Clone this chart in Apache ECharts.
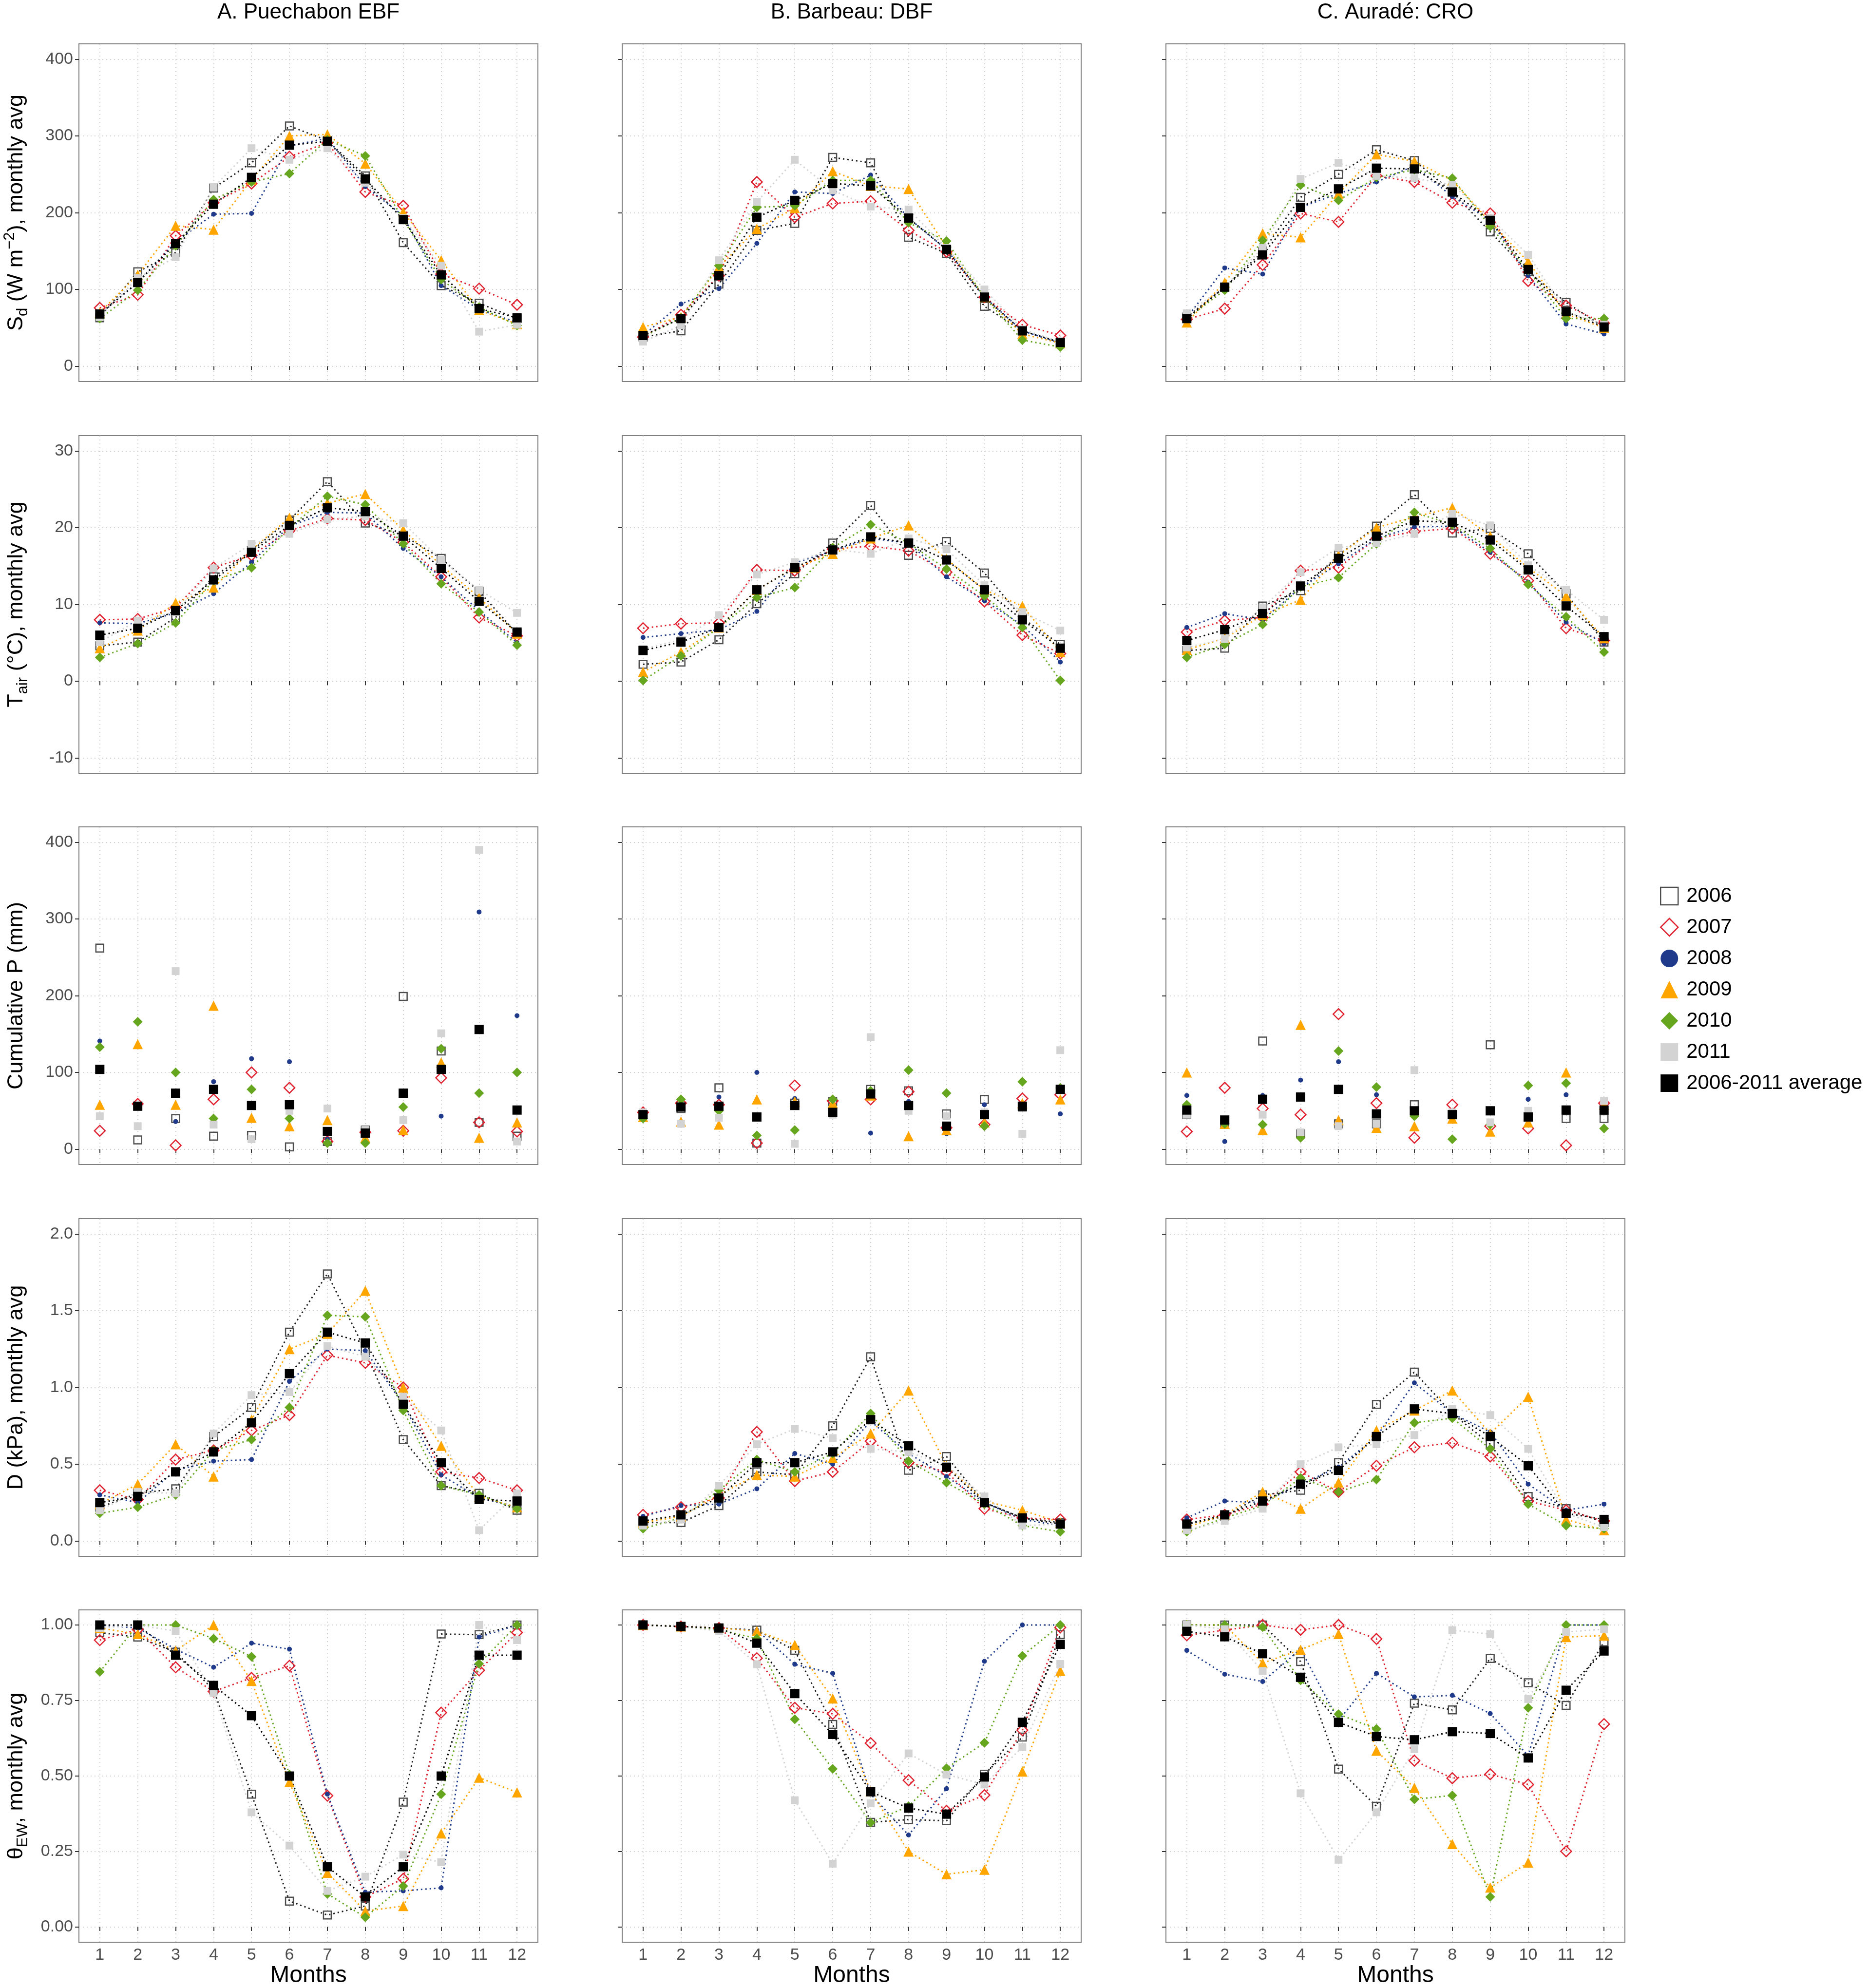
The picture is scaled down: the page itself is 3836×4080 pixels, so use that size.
<!DOCTYPE html>
<html lang="en">
<head>
<meta charset="UTF-8">
<title>Monthly meteorology 2006-2011</title>
<script src="https://cdn.jsdelivr.net/npm/echarts@6/dist/echarts.min.js"></script>
<style>
  html, body { margin: 0; padding: 0; background: #fff; }
  #chart { width: 3836px; height: 4080px; }
</style>
</head>
<body>
<div id="chart"></div>
<script>
var months = [1, 2, 3, 4, 5, 6, 7, 8, 9, 10, 11, 12];
var years = ['2006', '2007', '2008', '2009', '2010', '2011', '2006-2011 average'];
var sites = ['A. Puechabon EBF', 'B. Barbeau: DBF', 'C. Auradé: CRO'];

// every panel: one row per entry of years, one value per month
var sdPuechabon = [
  [63, 123, 148, 232, 265, 313, 294, 248, 161, 105, 82, 62],
  [76, 93, 170, 213, 238, 273, 291, 227, 209, 120, 101, 80],
  [68, 109, 162, 198, 199, 287, 297, 234, 196, 105, 74, 57],
  [70, 119, 183, 178, 243, 300, 302, 264, 201, 138, 73, 55],
  [62, 99, 157, 217, 240, 251, 295, 274, 191, 113, 77, 53],
  [64, 115, 142, 233, 284, 269, 284, 239, 193, 131, 45, 54],
  [68, 109, 160, 211, 246, 288, 293, 244, 191, 119, 75, 63]
];
var sdBarbeau = [
  [38, 46, 107, 177, 186, 272, 265, 168, 147, 78, 46, 31],
  [38, 67, 118, 240, 194, 212, 215, 177, 149, 90, 54, 40],
  [40, 81, 101, 160, 227, 225, 249, 193, 152, 90, 46, 30],
  [51, 64, 129, 179, 206, 254, 235, 231, 155, 90, 42, 30],
  [38, 63, 131, 207, 209, 242, 242, 187, 163, 90, 34, 25],
  [32, 53, 138, 214, 269, 229, 208, 204, 154, 100, 48, 32],
  [40, 62, 118, 194, 216, 238, 235, 193, 152, 90, 46, 31]
];
var sdAurade = [
  [64, 103, 149, 220, 250, 282, 268, 227, 175, 123, 83, 51],
  [61, 75, 132, 199, 188, 248, 240, 213, 199, 111, 79, 56],
  [63, 128, 120, 207, 225, 240, 261, 221, 190, 118, 55, 42],
  [57, 109, 173, 168, 225, 276, 267, 242, 188, 136, 68, 50],
  [62, 99, 164, 236, 216, 246, 256, 245, 182, 125, 62, 62],
  [69, 103, 154, 244, 265, 248, 245, 236, 193, 145, 71, 54],
  [62, 103, 145, 207, 231, 258, 257, 227, 190, 126, 71, 51]
];

var tairPuechabon = [
  [4.6, 5.1, 8.3, 13.6, 17.0, 21.0, 26.0, 20.6, 19.0, 16.0, 11.7, 6.2],
  [8.0, 8.1, 9.6, 14.8, 16.4, 19.6, 21.2, 21.0, 18.1, 13.6, 8.3, 5.9],
  [7.6, 7.5, 8.9, 11.4, 15.5, 20.2, 22.0, 21.9, 17.3, 13.6, 9.2, 5.0],
  [4.3, 6.6, 10.2, 12.2, 17.1, 21.3, 23.2, 24.4, 19.7, 15.1, 10.9, 6.2],
  [3.1, 4.9, 7.6, 13.1, 14.8, 20.0, 24.1, 23.0, 17.9, 12.7, 9.0, 4.7],
  [5.1, 7.9, 9.0, 14.7, 17.9, 19.2, 21.1, 21.5, 20.6, 15.8, 11.9, 8.9],
  [6.0, 6.9, 9.2, 13.2, 16.8, 20.3, 22.6, 22.1, 18.9, 14.7, 10.4, 6.4]
];
var tairBarbeau = [
  [2.2, 2.5, 5.4, 10.1, 14.0, 18.0, 22.9, 16.4, 18.2, 14.1, 8.2, 4.8],
  [6.9, 7.5, 7.6, 14.5, 14.4, 17.2, 17.6, 17.0, 14.2, 10.4, 6.0, 3.6],
  [5.7, 6.2, 6.7, 9.1, 15.4, 17.0, 18.6, 18.0, 13.6, 10.5, 7.3, 2.5],
  [1.2, 3.8, 7.0, 11.9, 14.8, 16.6, 18.6, 20.3, 15.9, 11.9, 9.8, 3.8],
  [0.1, 3.3, 7.0, 10.9, 12.2, 17.4, 20.4, 18.0, 14.6, 11.1, 7.0, 0.1],
  [4.2, 5.4, 8.6, 13.9, 15.5, 17.2, 16.6, 18.6, 17.2, 12.5, 9.0, 6.6],
  [4.0, 5.1, 7.0, 11.9, 14.8, 17.1, 18.8, 18.0, 15.8, 11.9, 8.0, 4.3]
];
var tairAurade = [
  [4.0, 4.3, 9.8, 11.8, 16.4, 20.2, 24.3, 19.3, 19.9, 16.6, 11.4, 5.1],
  [6.4, 7.9, 8.3, 14.4, 14.8, 18.6, 19.5, 19.9, 16.6, 13.1, 6.9, 5.3],
  [7.0, 8.8, 8.0, 12.2, 15.3, 18.6, 20.1, 20.2, 16.8, 12.9, 7.7, 4.9],
  [4.1, 5.6, 8.6, 10.6, 16.4, 20.0, 21.4, 22.6, 18.9, 14.8, 11.1, 5.6],
  [3.1, 4.8, 7.4, 12.3, 13.5, 17.9, 22.0, 20.4, 17.3, 12.6, 8.4, 3.8],
  [4.4, 5.5, 9.6, 14.2, 17.4, 18.0, 19.2, 21.8, 20.3, 15.1, 11.9, 8.0],
  [5.3, 6.7, 8.8, 12.4, 16.0, 18.9, 20.9, 20.7, 18.4, 14.5, 9.8, 5.8]
];

var pPuechabon = [
  [262, 12, 40, 17, 18, 3, 10, 25, 199, 128, 35, 17],
  [24, 59, 5, 65, 100, 80, 10, 22, 24, 93, 35, 23],
  [141, 58, 36, 88, 118, 114, 13, 20, 73, 43, 309, 174],
  [58, 137, 58, 187, 41, 30, 38, 15, 25, 113, 15, 35],
  [133, 166, 100, 40, 78, 40, 8, 8, 55, 131, 73, 100],
  [43, 30, 232, 32, 13, 50, 53, 25, 38, 151, 390, 10],
  [104, 56, 73, 78, 57, 58, 23, 21, 73, 104, 156, 51]
];
var pBarbeau = [
  [45, 53, 80, 8, 60, 62, 78, 76, 46, 65, 55, 78],
  [48, 60, 58, 8, 83, 63, 65, 75, 28, 32, 66, 71],
  [50, 65, 68, 100, 66, 55, 21, 62, 20, 58, 55, 46],
  [42, 36, 32, 65, 62, 60, 70, 17, 25, 35, 60, 65],
  [40, 65, 50, 18, 25, 65, 76, 103, 73, 30, 88, 80],
  [48, 33, 41, 42, 7, 45, 146, 50, 43, 48, 20, 129],
  [45, 55, 56, 42, 57, 48, 72, 57, 30, 45, 56, 78]
];
var pAurade = [
  [45, 33, 141, 20, 33, 33, 58, 45, 136, 42, 40, 40],
  [23, 80, 53, 45, 176, 60, 15, 58, 30, 27, 5, 60],
  [70, 10, 70, 90, 114, 71, 48, 42, 35, 65, 71, 50],
  [100, 33, 25, 162, 38, 28, 30, 40, 23, 35, 100, 58],
  [58, 33, 32, 15, 128, 81, 43, 13, 32, 83, 86, 27],
  [45, 38, 45, 22, 30, 33, 103, 48, 35, 50, 52, 63],
  [51, 38, 65, 68, 78, 46, 50, 45, 50, 42, 51, 51]
];

var dPuechabon = [
  [0.22, 0.31, 0.34, 0.68, 0.87, 1.36, 1.74, 1.24, 0.66, 0.36, 0.31, 0.20],
  [0.33, 0.27, 0.53, 0.59, 0.72, 0.82, 1.21, 1.16, 1.00, 0.45, 0.41, 0.33],
  [0.30, 0.25, 0.46, 0.52, 0.53, 1.04, 1.25, 1.24, 0.89, 0.43, 0.28, 0.22],
  [0.24, 0.37, 0.63, 0.42, 0.79, 1.25, 1.35, 1.63, 1.00, 0.62, 0.29, 0.22],
  [0.18, 0.22, 0.30, 0.59, 0.66, 0.87, 1.47, 1.46, 0.85, 0.36, 0.30, 0.21],
  [0.20, 0.32, 0.31, 0.70, 0.95, 0.97, 1.27, 1.20, 0.94, 0.72, 0.07, 0.31],
  [0.25, 0.29, 0.45, 0.58, 0.77, 1.09, 1.36, 1.29, 0.89, 0.51, 0.27, 0.26]
];
var dBarbeau = [
  [0.12, 0.12, 0.23, 0.45, 0.43, 0.75, 1.20, 0.46, 0.55, 0.25, 0.15, 0.12],
  [0.17, 0.22, 0.28, 0.71, 0.39, 0.45, 0.65, 0.51, 0.45, 0.21, 0.15, 0.14],
  [0.16, 0.23, 0.24, 0.34, 0.57, 0.50, 0.78, 0.57, 0.42, 0.25, 0.14, 0.10],
  [0.12, 0.16, 0.30, 0.43, 0.42, 0.54, 0.70, 0.98, 0.49, 0.26, 0.20, 0.12],
  [0.08, 0.15, 0.33, 0.53, 0.45, 0.57, 0.83, 0.52, 0.38, 0.24, 0.10, 0.06],
  [0.10, 0.14, 0.36, 0.63, 0.73, 0.67, 0.60, 0.58, 0.49, 0.29, 0.10, 0.11],
  [0.13, 0.17, 0.28, 0.51, 0.51, 0.58, 0.79, 0.62, 0.48, 0.25, 0.15, 0.11]
];
var dAurade = [
  [0.11, 0.16, 0.30, 0.33, 0.51, 0.89, 1.10, 0.83, 0.63, 0.29, 0.21, 0.12],
  [0.14, 0.17, 0.24, 0.45, 0.32, 0.49, 0.61, 0.64, 0.55, 0.26, 0.20, 0.13],
  [0.15, 0.26, 0.25, 0.37, 0.48, 0.68, 1.03, 0.83, 0.71, 0.37, 0.20, 0.24],
  [0.09, 0.17, 0.32, 0.21, 0.38, 0.72, 0.85, 0.98, 0.70, 0.94, 0.14, 0.07],
  [0.06, 0.15, 0.23, 0.41, 0.32, 0.40, 0.77, 0.80, 0.60, 0.24, 0.10, 0.08],
  [0.07, 0.13, 0.21, 0.50, 0.61, 0.63, 0.69, 0.86, 0.82, 0.60, 0.18, 0.09],
  [0.11, 0.17, 0.26, 0.37, 0.46, 0.68, 0.86, 0.83, 0.68, 0.49, 0.18, 0.14]
];

var thetaPuechabon = [
  [0.975, 0.96, 0.91, 0.785, 0.44, 0.086, 0.04, 0.07, 0.414, 0.97, 0.968, 1.0],
  [0.95, 0.985, 0.86, 0.78, 0.825, 0.865, 0.435, 0.10, 0.16, 0.71, 0.85, 0.975],
  [1.0, 0.99, 0.92, 0.86, 0.94, 0.92, 0.44, 0.116, 0.12, 0.13, 0.96, 1.0],
  [0.99, 0.97, 0.915, 1.0, 0.815, 0.48, 0.18, 0.053, 0.07, 0.31, 0.495, 0.446],
  [0.845, 1.0, 1.0, 0.955, 0.895, 0.505, 0.11, 0.033, 0.136, 0.44, 0.872, 1.0],
  [0.99, 1.0, 0.98, 0.775, 0.38, 0.27, 0.12, 0.167, 0.24, 0.215, 1.0, 0.95],
  [1.0, 1.0, 0.90, 0.80, 0.70, 0.50, 0.20, 0.10, 0.20, 0.50, 0.90, 0.90]
];
var thetaBarbeau = [
  [1.0, 0.995, 0.99, 0.983, 0.916, 0.671, 0.347, 0.356, 0.352, 0.506, 0.629, 0.968],
  [1.0, 0.995, 0.99, 0.89, 0.726, 0.706, 0.609, 0.486, 0.385, 0.437, 0.652, 0.992],
  [1.0, 0.995, 0.99, 0.983, 0.87, 0.84, 0.44, 0.305, 0.458, 0.88, 1.0, 1.0],
  [1.0, 0.995, 0.99, 0.98, 0.934, 0.757, 0.45, 0.25, 0.175, 0.19, 0.515, 0.848],
  [1.0, 0.995, 0.985, 0.955, 0.688, 0.524, 0.346, 0.40, 0.526, 0.61, 0.898, 1.0],
  [1.0, 0.995, 0.98, 0.87, 0.42, 0.21, 0.41, 0.575, 0.505, 0.472, 0.596, 0.871],
  [1.0, 0.995, 0.99, 0.94, 0.773, 0.638, 0.448, 0.394, 0.374, 0.497, 0.678, 0.936]
];
var thetaAurade = [
  [1.0, 1.0, 1.0, 0.879, 0.523, 0.40, 0.741, 0.719, 0.889, 0.809, 0.734, 0.944],
  [0.966, 0.983, 1.0, 0.984, 1.0, 0.954, 0.551, 0.493, 0.506, 0.472, 0.251, 0.672],
  [0.916, 0.837, 0.813, 0.92, 0.683, 0.84, 0.762, 0.767, 0.707, 0.567, 1.0, 1.0],
  [1.0, 1.0, 0.874, 0.918, 0.97, 0.584, 0.461, 0.275, 0.131, 0.214, 0.96, 0.965],
  [1.0, 1.0, 0.993, 0.817, 0.705, 0.656, 0.423, 0.436, 0.10, 0.726, 1.0, 1.0],
  [1.0, 0.986, 0.848, 0.443, 0.223, 0.38, 0.589, 0.983, 0.97, 0.755, 0.977, 0.986],
  [0.979, 0.961, 0.905, 0.827, 0.678, 0.631, 0.62, 0.647, 0.641, 0.56, 0.784, 0.914]
];

var sdTicks = [0, 100, 200, 300, 400];
var tairTicks = [-10, 0, 10, 20, 30];
var pTicks = [0, 100, 200, 300, 400];
var dTicks = [0, 0.5, 1, 1.5, 2];
var thetaTicks = [0, 0.25, 0.5, 0.75, 1];

var FONT = 'Liberation Sans';

// panel rows: data, axis range (ggplot 5% padding), label digits, y title
var rows = [
  { panels: [sdPuechabon, sdBarbeau, sdAurade], ticks: sdTicks, min: -20, max: 420, digits: 0, lines: true,
    title: '{n|S}{sub|d}{n| (W m}{sup|\u22122}{n|), monthly avg}' },
  { panels: [tairPuechabon, tairBarbeau, tairAurade], ticks: tairTicks, min: -12, max: 32, digits: 0, lines: true,
    title: '{n|T}{sub|air}{n| (\u00b0C), monthly avg}' },
  { panels: [pPuechabon, pBarbeau, pAurade], ticks: pTicks, min: -20, max: 420, digits: 0, lines: false,
    title: '{n|Cumulative P (mm)}' },
  { panels: [dPuechabon, dBarbeau, dAurade], ticks: dTicks, min: -0.1, max: 2.1, digits: 1, lines: true,
    title: '{n|D (kPa), monthly avg}' },
  { panels: [thetaPuechabon, thetaBarbeau, thetaAurade], ticks: thetaTicks, min: -0.05, max: 1.05, digits: 2, lines: true,
    title: '{n|\u03b8}{sub|EW}{n|, monthly avg}' }
];

var styles = [
  { symbol: 'rect', size: 16, fill: 'rgba(0,0,0,0)', border: '#4d4d4d', line: '#1a1a1a' },
  { symbol: 'diamond', size: 22, fill: 'rgba(0,0,0,0)', border: '#e0202e', line: '#e0202e' },
  { symbol: 'circle', size: 10, fill: '#1f3a8a', line: '#1f3a8a' },
  { symbol: 'triangle', size: 21, fill: '#ffa500', line: '#ffa500' },
  { symbol: 'diamond', size: 20, fill: '#66a61e', line: '#66a61e' },
  { symbol: 'rect', size: 16, fill: '#d3d3d3', line: '#d3d3d3' },
  { symbol: 'rect', size: 19, fill: '#000000', line: '#000000' }
];

var gridLeft = [162, 1277, 2393];
var gridTop = [90, 894, 1697, 2501, 3304];
var gridW = 942, gridH = 693;

var grids = [], xAxes = [], yAxes = [], series = [], titles = [];

sites.forEach(function (s, c) {
  titles.push({
    text: s, left: gridLeft[c] + gridW / 2, top: 4, textAlign: 'center', padding: 0,
    textStyle: { fontFamily: FONT, fontSize: 44, fontWeight: 'normal', color: '#000' }
  });
});

rows.forEach(function (row, r) {
  for (var c = 0; c < 3; c++) {
    var g = grids.length;
    var bottomRow = r === rows.length - 1;
    grids.push({
      left: gridLeft[c], top: gridTop[r], width: gridW, height: gridH,
      show: true, borderColor: '#7f7f7f', borderWidth: 2, backgroundColor: '#fff'
    });
    xAxes.push({
      type: 'value', gridIndex: g, min: 0.45, max: 12.55,
      axisLine: { show: false },
      axisTick: { show: true, customValues: months, length: 8, lineStyle: { color: '#333', width: 2 } },
      axisLabel: { show: bottomRow, customValues: months, margin: 10, fontFamily: FONT, fontSize: 34, color: '#4d4d4d' },
      splitLine: { show: true, lineStyle: { color: '#cfcfcf', width: 2, type: [2, 6] } },
      name: bottomRow ? 'Months' : '', nameLocation: 'middle', nameGap: 44,
      nameTextStyle: { fontFamily: FONT, fontSize: 48, color: '#000' }
    });
    var digits = row.digits;
    yAxes.push({
      type: 'value', gridIndex: g, min: row.min, max: row.max,
      axisLine: { show: false },
      axisTick: { show: true, customValues: row.ticks, length: 8, lineStyle: { color: '#333', width: 2 } },
      axisLabel: {
        show: c === 0, customValues: row.ticks, margin: 12, fontFamily: FONT, fontSize: 34, color: '#4d4d4d',
        formatter: function (v) { return v.toFixed(digits); }
      },
      splitLine: { show: true, lineStyle: { color: '#cfcfcf', width: 2, type: [2, 6] } },
      name: c === 0 ? row.title : '', nameLocation: 'middle', nameRotate: 90, nameGap: 99,
      nameTextStyle: {
        fontFamily: FONT, fontSize: 45, color: '#000',
        rich: {
          n: { fontFamily: FONT, fontSize: 45, lineHeight: 58, color: '#000' },
          sub: { fontFamily: FONT, fontSize: 31, lineHeight: 24, verticalAlign: 'bottom', color: '#000' },
          sup: { fontFamily: FONT, fontSize: 31, lineHeight: 24, verticalAlign: 'top', color: '#000' }
        }
      }
    });
    var block = row.panels[c];
    for (var k = 0; k < years.length; k++) {
      var st = styles[k];
      series.push({
        name: years[k],
        type: row.lines ? 'line' : 'scatter',
        xAxisIndex: g, yAxisIndex: g,
        data: months.map(function (m, i) { return [m, block[k][i]]; }),
        symbol: st.symbol, symbolSize: st.size, showSymbol: true,
        itemStyle: { color: st.fill, borderColor: st.border || st.fill, borderWidth: st.border ? 2.5 : 0, opacity: 1 },
        lineStyle: { color: st.line, width: 3, type: [3, 6] },
        silent: true, animation: false
      });
    }
  }
});

var legendData = years.map(function (y, k) {
  var st = styles[k];
  return {
    name: y, icon: st.symbol,
    itemStyle: { color: st.fill, borderColor: st.border || st.fill, borderWidth: st.border ? 2.5 : 0 }
  };
});

var chart = echarts.init(document.getElementById('chart'), null, { renderer: 'canvas' });
chart.setOption({
  backgroundColor: '#fff',
  animation: false,
  title: titles,
  legend: {
    data: legendData, orient: 'vertical', left: 3407, top: 1818, padding: 0,
    itemWidth: 36, itemHeight: 36, itemGap: 22, selectedMode: false,
    lineStyle: { width: 0, opacity: 0 },
    textStyle: { fontFamily: FONT, fontSize: 42, lineHeight: 42, color: '#000', padding: [0, 0, 0, 12] }
  },
  grid: grids,
  xAxis: xAxes,
  yAxis: yAxes,
  series: series
});
</script>
</body>
</html>
